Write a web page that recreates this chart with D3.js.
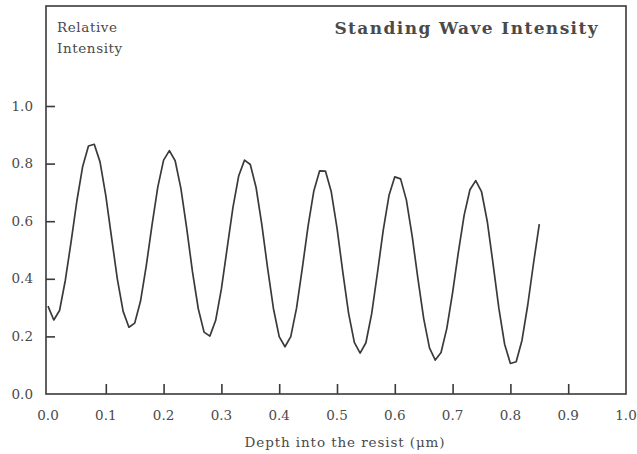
<!DOCTYPE html>
<html>
<head>
<meta charset="utf-8">
<script src="https://cdn.jsdelivr.net/npm/d3@7"></script>
<style>
  html, body { margin: 0; padding: 0; background: #ffffff; }
  svg { display: block; }
  text { font-family: "DejaVu Serif", "Liberation Serif", serif; fill: #4a4a4a; }
</style>
</head>
<body>
<svg id="chart" width="637" height="454"></svg>
<script>
// Depth into the resist (µm), sampled every 0.01
const depth = d3.range(0, 86).map(i => +(i * 0.01).toFixed(2));
// Relative intensity
const intensity = [
  0.305, 0.257, 0.290, 0.395, 0.529, 0.671, 0.790, 0.861, 0.867, 0.806,
  0.689, 0.543, 0.399, 0.287, 0.232, 0.246, 0.322, 0.445, 0.587, 0.719,
  0.812, 0.845, 0.810, 0.713, 0.575, 0.424, 0.296, 0.215, 0.201, 0.255,
  0.365, 0.507, 0.648, 0.758, 0.812, 0.797, 0.717, 0.587, 0.436, 0.297,
  0.199, 0.164, 0.199, 0.298, 0.437, 0.584, 0.706, 0.775, 0.774, 0.703,
  0.577, 0.424, 0.281, 0.179, 0.142, 0.178, 0.279, 0.421, 0.569, 0.690,
  0.754, 0.747, 0.674, 0.549, 0.401, 0.262, 0.160, 0.118, 0.144, 0.228,
  0.352, 0.493, 0.621, 0.709, 0.741, 0.703, 0.599, 0.452, 0.298, 0.173,
  0.106, 0.112, 0.186, 0.309, 0.454, 0.590
];
const xTicks = [0.1, 0.2, 0.3, 0.4, 0.5, 0.6, 0.7, 0.8, 0.9];
const xTickLabels = ["0.0", "0.1", "0.2", "0.3", "0.4", "0.5", "0.6", "0.7", "0.8", "0.9", "1.0"];
const yTicks = [0.2, 0.4, 0.6, 0.8, 1.0];
const yTickLabels = ["0.0", "0.2", "0.4", "0.6", "0.8", "1.0"];
const title = "Standing Wave Intensity";
const yTitle = ["Relative", "Intensity"];
const xTitle = "Depth into the resist (\u03bcm)";

const svg = d3.select("#chart");
const frame = { left: 46, right: 626, top: 6, bottom: 394 };
const x = d3.scaleLinear().domain([0, 1]).range([48, 626]);
const y = d3.scaleLinear().domain([0, 1]).range([394, 106]);
const ink = "#3a3a3a";

// frame
svg.append("rect")
  .attr("x", frame.left).attr("y", frame.top)
  .attr("width", frame.right - frame.left).attr("height", frame.bottom - frame.top)
  .attr("fill", "none").attr("stroke", ink).attr("stroke-width", 1.6);

// x axis ticks (inward)
const xAxis = d3.axisBottom(x).tickValues(xTicks).tickSize(-10).tickFormat("");
const gx = svg.append("g").attr("transform", `translate(0,${frame.bottom})`).call(xAxis);
gx.select(".domain").remove();
gx.selectAll(".tick line").attr("stroke", ink).attr("stroke-width", 1.6);

// y axis ticks (inward)
const yAxis = d3.axisLeft(y).tickValues(yTicks).tickSize(-9).tickFormat("");
const gy = svg.append("g").attr("transform", `translate(${frame.left},0)`).call(yAxis);
gy.select(".domain").remove();
gy.selectAll(".tick line").attr("stroke", ink).attr("stroke-width", 1.6);

// tick labels
svg.append("g").selectAll("text").data(xTickLabels).join("text")
  .attr("x", d => x(+d)).attr("y", 420)
  .attr("text-anchor", "middle").attr("font-size", 13.5).text(d => d);
svg.append("g").selectAll("text").data(yTickLabels).join("text")
  .attr("x", 33).attr("y", d => y(+d) + 4.5)
  .attr("text-anchor", "end").attr("font-size", 13.5).text(d => d);

// titles
svg.append("text").attr("x", 599).attr("y", 34).attr("text-anchor", "end")
  .attr("font-size", 17).attr("font-weight", "bold").attr("letter-spacing", 1.4)
  .attr("fill", "#333").text(title);
svg.append("g").selectAll("text").data(yTitle).join("text")
  .attr("x", 57).attr("y", (d, i) => 32 + i * 21)
  .attr("font-size", 13.5).attr("letter-spacing", 0.6).text(d => d);
svg.append("text").attr("x", 345).attr("y", 447).attr("text-anchor", "middle")
  .attr("font-size", 13.5).attr("letter-spacing", 0.9).text(xTitle);

// curve
const line = d3.line().x((d, i) => x(depth[i])).y(d => y(d)).curve(d3.curveLinear);
svg.append("path").datum(intensity)
  .attr("d", line).attr("fill", "none")
  .attr("stroke", ink).attr("stroke-width", 1.7).attr("stroke-linejoin", "round");
</script>
</body>
</html>
